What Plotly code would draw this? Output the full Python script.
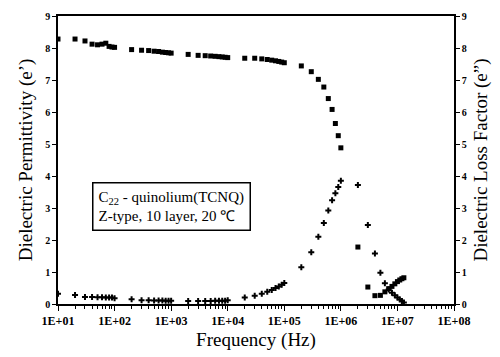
import plotly.graph_objects as go

# Frequencies (Hz)
freq = [10, 20, 30, 40, 50, 60, 70, 80, 90,
        100, 200, 300, 400, 500, 600, 700, 800, 900,
        1e3, 2e3, 3e3, 4e3, 5e3, 6e3, 7e3, 8e3, 9e3,
        1e4, 2e4, 3e4, 4e4, 5e4, 6e4, 7e4, 8e4, 9e4,
        1e5, 2e5, 3e5, 4e5, 5e5, 6e5, 7e5, 8e5, 9e5,
        1e6, 2e6, 3e6, 4e6, 5e6, 6e6, 7e6, 8e6, 9e6,
        1e7, 1.1e7, 1.2e7, 1.3e7]

# Dielectric permittivity e' (squares, left axis)
eps_real = [8.28, 8.28, 8.22, 8.12, 8.10, 8.12, 8.15, 8.05, 8.03,
            8.02, 7.95, 7.93, 7.92, 7.90, 7.89, 7.87, 7.86, 7.85,
            7.84, 7.80, 7.77, 7.76, 7.75, 7.74, 7.73, 7.72, 7.71,
            7.70, 7.68, 7.68, 7.66, 7.64, 7.62, 7.60, 7.58, 7.56,
            7.54, 7.44, 7.26, 7.02, 6.78, 6.42, 6.08, 5.64, 5.26,
            4.88, 1.78, 0.53, 0.26, 0.27, 0.38, 0.48, 0.55, 0.63,
            0.70, 0.75, 0.79, 0.82]

# Dielectric loss factor e" (crosses, right axis)
eps_imag = [0.32, 0.28, 0.22, 0.22, 0.21, 0.21, 0.20, 0.20, 0.20,
            0.18, 0.15, 0.12, 0.12, 0.11, 0.11, 0.11, 0.10, 0.10,
            0.10, 0.09, 0.09, 0.09, 0.09, 0.10, 0.10, 0.10, 0.10,
            0.12, 0.20, 0.26, 0.32, 0.38, 0.44, 0.50, 0.55, 0.60,
            0.66, 1.15, 1.62, 2.10, 2.53, 2.92, 3.24, 3.46, 3.66,
            3.85, 3.72, 2.47, 1.58, 0.98, 0.65, 0.45, 0.35, 0.27,
            0.20, 0.14, 0.09, 0.05]

major_vals = [1e1, 1e2, 1e3, 1e4, 1e5, 1e6, 1e7, 1e8]
major_text = ["1E+01", "1E+02", "1E+03", "1E+04", "1E+05", "1E+06", "1E+07", "1E+08"]
minor_vals = [k * 10 ** n for n in range(1, 8) for k in range(2, 10)]
y_ticks = [0, 1, 2, 3, 4, 5, 6, 7, 8, 9]

SERIF = "Liberation Serif, Times New Roman, serif"

fig = go.Figure()
fig.add_trace(go.Scatter(x=freq, y=eps_real, mode="markers",
                         marker=dict(symbol="square", size=5, color="black"),
                         name="e'", yaxis="y"))
fig.add_trace(go.Scatter(x=freq, y=eps_imag, mode="markers",
                         marker=dict(symbol="cross", size=5, color="black"),
                         name='e"', yaxis="y2"))

fig.update_layout(
    width=500, height=357,
    margin=dict(l=58, r=46, t=10, b=46),
    paper_bgcolor="white", plot_bgcolor="white",
    showlegend=False,
    font=dict(family=SERIF, color="black"),
    xaxis=dict(
        type="log", range=[1, 8],
        tickvals=major_vals, ticktext=major_text,
        ticks="outside", ticklen=5, tickwidth=1, tickcolor="black",
        minor=dict(tickvals=minor_vals, ticks="outside", ticklen=3, tickcolor="black", tickwidth=1),
        showline=True, linecolor="black", linewidth=1.5, mirror=True,
        showgrid=False, zeroline=False,
        tickfont=dict(family=SERIF, size=12, color="black", weight="bold"),
        title=dict(text="Frequency (Hz)", font=dict(family=SERIF, size=19, color="black"), standoff=6),
    ),
    yaxis=dict(
        range=[0, 9], tickvals=y_ticks,
        ticks="outside", ticklen=4, tickwidth=1, tickcolor="black",
        showline=True, linecolor="black", linewidth=1.5,
        showgrid=False, zeroline=False,
        tickfont=dict(family=SERIF, size=10, color="black", weight="bold"),
        title=dict(text="Dielectric Permittivity (e’)", font=dict(family=SERIF, size=19, color="black"), standoff=8),
    ),
    yaxis2=dict(
        range=[0, 9], tickvals=y_ticks, overlaying="y", side="right",
        ticks="outside", ticklen=4, tickwidth=1, tickcolor="black",
        showline=True, linecolor="black", linewidth=1.5,
        showgrid=False, zeroline=False,
        tickfont=dict(family=SERIF, size=10, color="black", weight="bold"),
        title=dict(text="Dielectric Loss Factor (e”)", font=dict(family=SERIF, size=19, color="black"), standoff=8),
    ),
)

fig.add_annotation(
    xref="paper", yref="paper", x=0.086, y=0.425, xanchor="left", yanchor="top",
    text="C<sub>22</sub> - quinolium(TCNQ)<br>Z-type, 10 layer, 20 ℃",
    showarrow=False, align="left",
    font=dict(family=SERIF, size=15, color="black"),
    bordercolor="black", borderwidth=1.5, borderpad=5, bgcolor="white",
)

fig.write_html("out.html")
